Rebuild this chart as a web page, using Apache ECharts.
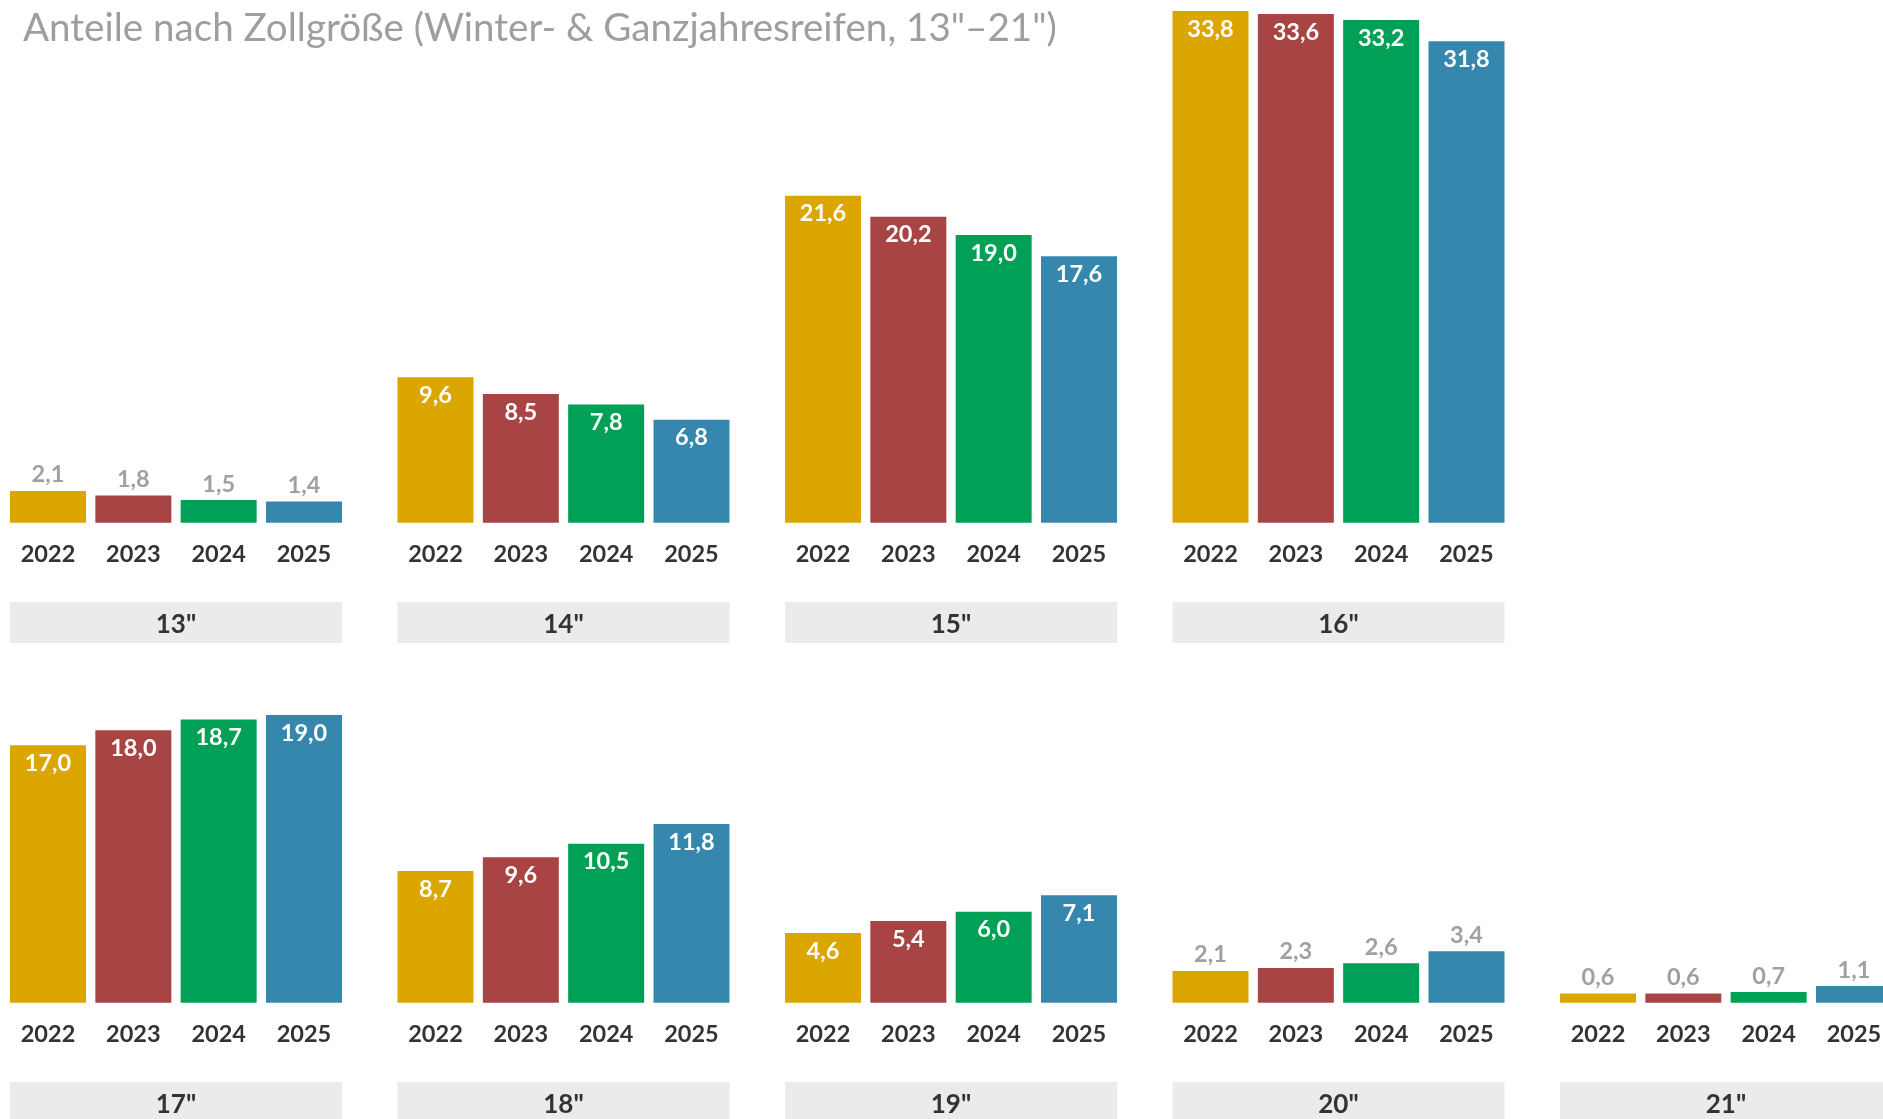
<!DOCTYPE html>
<html>
<head>
<meta charset="utf-8">
<script src="https://cdn.jsdelivr.net/npm/echarts@6/dist/echarts.min.js"></script>
<style>
  html, body { margin: 0; padding: 0; background: #fff; overflow: hidden; }
  /* a bit wider than the window: the 21" facet runs off the right edge */
  #chart { width: 1910px; height: 1119px; }
</style>
</head>
<body>
<div id="chart"></div>
<script>
// Anteile nach Zollgröße, je Jahr
var years = ['2022', '2023', '2024', '2025'];
var sizes = ['13"', '14"', '15"', '16"', '17"', '18"', '19"', '20"', '21"'];
var y2022 = [2.1, 9.6, 21.6, 33.8, 17.0, 8.7, 4.6, 2.1, 0.6];
var y2023 = [1.8, 8.5, 20.2, 33.6, 18.0, 9.6, 5.4, 2.3, 0.6];
var y2024 = [1.5, 7.8, 19.0, 33.2, 18.7, 10.5, 6.0, 2.6, 0.7];
var y2025 = [1.4, 6.8, 17.6, 31.8, 19.0, 11.8, 7.1, 3.4, 1.1];
var yearColors = ['#DCA600', '#A94444', '#00A056', '#3687AE'];

var chart = echarts.init(document.getElementById('chart'));
var font = 'Lato, "Noto Sans", sans-serif';

// layout of the facets
var panelW = 332, panelStep = 387.5, panelX0 = 10;
var rowStep = 480, baseY0 = 522.7;
var band = 85.33, barW = 76;
var pxPerUnit = 15.14, yMax = 34;
var panelPos = [[0,0],[0,1],[0,2],[0,3],[1,0],[1,1],[1,2],[1,3],[1,4]];

function fmt(v){ return v.toFixed(1).replace('.', ','); }

var grids = [], xAxes = [], yAxes = [], series = [], graphics = [];
var all = [y2022, y2023, y2024, y2025];

sizes.forEach(function(size, i){
    var row = panelPos[i][0], col = panelPos[i][1];
    var px = panelX0 + col * panelStep;
    var bottom = baseY0 + row * rowStep;
    var h = yMax * pxPerUnit;
    grids.push({
        left: px - (band - barW) / 2,
        top: bottom - h,
        width: band * 4,
        height: h
    });
    xAxes.push({
        type: 'category', gridIndex: i, data: years,
        axisLine: {show: false}, axisTick: {show: false},
        axisLabel: {color: '#333', fontSize: 23.5, fontWeight: 'bold', fontFamily: font, margin: 20}
    });
    yAxes.push({type: 'value', gridIndex: i, min: 0, max: yMax, show: false, splitLine: {show: false}});
    var data = all.map(function(arr, k){
        var v = arr[i];
        var small = v < 4;
        return {
            value: v,
            itemStyle: {color: yearColors[k]},
            label: {
                show: true,
                position: small ? 'top' : 'insideTop',
                distance: small ? 4 : 6,
                color: small ? '#a0a0a0' : '#fff',
                fontSize: 23.5,
                fontWeight: 'bold',
                fontFamily: font,
                formatter: fmt(v)
            }
        };
    });
    series.push({
        type: 'bar', xAxisIndex: i, yAxisIndex: i,
        barWidth: barW, data: data, animation: false
    });
    // facet strip
    graphics.push({
        type: 'rect', left: px, top: bottom + 79.3,
        shape: {width: panelW, height: 41},
        style: {fill: '#ebebeb'}
    });
    graphics.push({
        type: 'text', x: px + panelW / 2, y: bottom + 101.5,
        style: {text: size, fill: '#333', font: 'bold 26px ' + font, textAlign: 'center', textVerticalAlign: 'middle'}
    });
});

var option = {
    backgroundColor: '#fff',
    animation: false,
    title: {
        text: 'Anteile nach Zollgröße (Winter- & Ganzjahresreifen, 13"–21")',
        left: 18, top: 4,
        textStyle: {color: '#9e9e9e', fontSize: 38.6, fontWeight: 'normal', fontFamily: font}
    },
    grid: grids,
    xAxis: xAxes,
    yAxis: yAxes,
    series: series,
    graphic: graphics
};
chart.setOption(option);
</script>
</body>
</html>
